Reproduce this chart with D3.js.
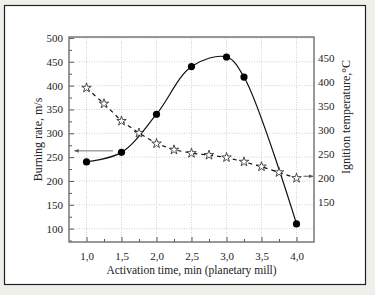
<!DOCTYPE html>
<html>
<head>
<meta charset="utf-8">
<script src="https://cdn.jsdelivr.net/npm/d3@7"></script>
<style>
    body { margin: 0; background: #f0f0eb; }
    svg text { font-family: "Liberation Serif", "DejaVu Serif", serif; fill: #222; }
</style>
</head>
<body>
<svg id="chart" width="375" height="295"></svg>
<script>
const activation = [1.0, 1.5, 2.0, 2.5, 3.0, 3.25, 4.0],
    burningRate = [240, 260, 340, 440, 460, 418, 110],
    tempTime = [1.0, 1.25, 1.5, 1.75, 2.0, 2.25, 2.5, 2.75, 3.0, 3.25, 3.5, 3.75, 4.0],
    ignitionTemp = [388, 355, 319, 294, 272, 259, 252, 248, 243, 234, 224, 212, 200],
    xTicks = [1.0, 1.5, 2.0, 2.5, 3.0, 3.5, 4.0],
    leftTicks = [100, 150, 200, 250, 300, 350, 400, 450, 500],
    rightTicks = [150, 200, 250, 300, 350, 400, 450];

const svg = d3.select('#chart'),
    margin = { left: 69, top: 37, right: 314, bottom: 242 },
    serif = '"Liberation Serif", "DejaVu Serif", serif';

svg.append('rect')
    .attr('x', 4.5).attr('y', 5.5)
    .attr('width', 361).attr('height', 279)
    .attr('fill', '#fff')
    .attr('stroke', '#222')
    .attr('stroke-width', 1.2);

const x = d3.scaleLinear().domain([0.75, 4.25]).range([margin.left, margin.right]),
    yL = d3.scaleLinear().domain([72, 502]).range([margin.bottom, margin.top]),
    yR = d3.scaleLinear().domain([67, 494]).range([margin.bottom, margin.top]);

const fmt = d => d3.format('.1f')(d).replace('.', ',');

// grid
const grid = svg.append('g').attr('stroke', '#c4c4c4').attr('stroke-dasharray', '1,1.5').attr('stroke-width', 0.8);
grid.selectAll('.gx').data(xTicks).join('line')
    .attr('x1', d => x(d)).attr('x2', d => x(d))
    .attr('y1', margin.top).attr('y2', margin.bottom);
grid.selectAll('.gy').data(leftTicks).join('line')
    .attr('x1', margin.left).attr('x2', margin.right)
    .attr('y1', d => yL(d)).attr('y2', d => yL(d));

// axes
svg.append('g')
    .attr('transform', `translate(0,${margin.bottom})`)
    .call(d3.axisBottom(x).tickValues(xTicks).tickFormat(fmt).tickSizeInner(-5).tickSizeOuter(0).tickPadding(10));
svg.append('g')
    .attr('transform', `translate(0,${margin.bottom})`)
    .call(d3.axisBottom(x).tickValues(d3.range(1.25, 4.1, 0.5)).tickFormat('').tickSizeInner(-3).tickSizeOuter(0));

svg.append('g')
    .attr('transform', `translate(${margin.left},0)`)
    .call(d3.axisLeft(yL).tickValues(leftTicks).tickSizeInner(-5).tickSizeOuter(0).tickPadding(6));
svg.append('g')
    .attr('transform', `translate(${margin.left},0)`)
    .call(d3.axisLeft(yL).tickValues(d3.range(75, 500, 50)).tickFormat('').tickSizeInner(-3).tickSizeOuter(0));

svg.append('g')
    .attr('transform', `translate(${margin.right},0)`)
    .call(d3.axisRight(yR).tickValues(rightTicks).tickSize(0).tickPadding(4));

svg.selectAll('.domain').remove();
svg.selectAll('.tick line').attr('stroke', '#555');
svg.selectAll('.tick text')
    .attr('font-family', serif)
    .style('font-size', '11px')
    .attr('fill', '#222');

svg.append('rect')
    .attr('x', margin.left).attr('y', margin.top)
    .attr('width', margin.right - margin.left)
    .attr('height', margin.bottom - margin.top)
    .attr('fill', 'none')
    .attr('stroke', '#777')
    .attr('stroke-width', 1.5);

// burning rate curve
const rateData = activation.map((d, i) => [d, burningRate[i]]);
svg.append('path')
    .datum(rateData)
    .attr('fill', 'none')
    .attr('stroke', '#111')
    .attr('stroke-width', 1.2)
    .attr('d', d3.line().x(d => x(d[0])).y(d => yL(d[1])).curve(d3.curveCatmullRom.alpha(0.5)));

// ignition temperature dashed line
const tempData = tempTime.map((d, i) => [d, ignitionTemp[i]]);
svg.append('path')
    .datum(tempData)
    .attr('fill', 'none')
    .attr('stroke', '#111')
    .attr('stroke-width', 1.2)
    .attr('stroke-dasharray', '4,4')
    .attr('d', d3.line().x(d => x(d[0])).y(d => yR(d[1])));

svg.selectAll('.dot').data(rateData).join('circle')
    .attr('cx', d => x(d[0])).attr('cy', d => yL(d[1]))
    .attr('r', 3.6)
    .attr('fill', '#000');

const star = d3.symbol().type(d3.symbolStar).size(28);
svg.selectAll('.star').data(tempData).join('path')
    .attr('transform', d => `translate(${x(d[0])},${yR(d[1])})`)
    .attr('d', star)
    .attr('fill', '#fff')
    .attr('stroke', '#222')
    .attr('stroke-width', 0.8);

// arrows
svg.append('defs').append('marker')
    .attr('id', 'ah')
    .attr('viewBox', '0 0 10 10')
    .attr('refX', 9).attr('refY', 5)
    .attr('markerWidth', 6).attr('markerHeight', 5)
    .attr('orient', 'auto')
    .append('path').attr('d', 'M0,1 L10,5 L0,9 Z').attr('fill', '#555');

svg.append('line')
    .attr('x1', x(1.38)).attr('x2', x(0.83))
    .attr('y1', yL(260) - 1.5).attr('y2', yL(260) - 1.5)
    .attr('stroke', '#666').attr('stroke-width', 0.9)
    .attr('marker-end', 'url(#ah)');

svg.append('line')
    .attr('x1', x(4.1)).attr('x2', margin.right - 1)
    .attr('y1', yR(204)).attr('y2', yR(204))
    .attr('stroke', '#444').attr('stroke-width', 0.9)
    .attr('marker-end', 'url(#ah)');

// axis titles
svg.append('text')
    .attr('transform', `translate(42,${(margin.top + margin.bottom) / 2}) rotate(-90)`)
    .attr('text-anchor', 'middle')
    .style('font-size', '12px')
    .text('Burning rate, m/s');

svg.append('text')
    .attr('transform', `translate(350,117) rotate(-90)`)
    .attr('text-anchor', 'middle')
    .style('font-size', '12px')
    .text('Ignition temperature,°C');

svg.append('text')
    .attr('x', (margin.left + margin.right) / 2)
    .attr('y', 274)
    .attr('text-anchor', 'middle')
    .style('font-size', '11.5px')
    .text('Activation time, min (planetary mill)');
</script>
</body>
</html>
